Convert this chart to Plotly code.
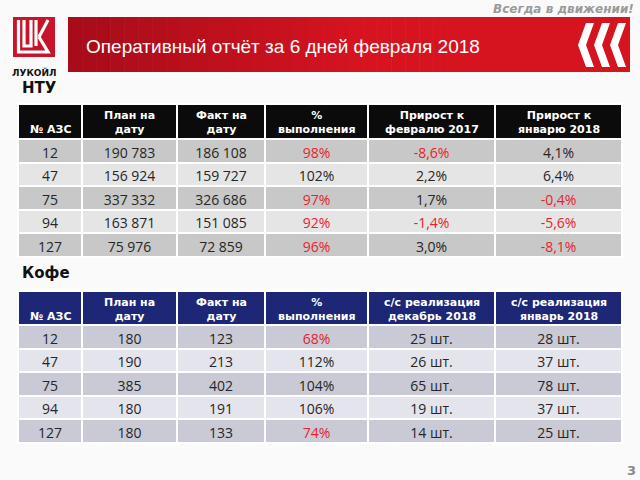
import plotly.graph_objects as go

W, H = 640, 480

# ---------------- data ----------------
azs = [12, 47, 75, 94, 127]

ntu_plan = [190783, 156924, 337332, 163871, 75976]
ntu_fact = [186108, 159727, 326686, 151085, 72859]
ntu_pct = [98, 102, 97, 92, 96]
ntu_feb17 = [-8.6, 2.2, 1.7, -1.4, 3.0]
ntu_jan18 = [4.1, 6.4, -0.4, -5.6, -8.1]

coffee_plan = [180, 190, 385, 180, 180]
coffee_fact = [123, 213, 402, 191, 133]
coffee_pct = [68, 112, 104, 106, 74]
coffee_dec = [25, 26, 65, 19, 14]
coffee_jan = [28, 37, 78, 37, 25]

ntu_headers = ["№ АЗС", "План на<br>дату", "Факт на<br>дату", "%<br>выполнения",
               "Прирост к<br>февралю 2017", "Прирост к<br>январю 2018"]
coffee_headers = ["№ АЗС", "План на<br>дату", "Факт на<br>дату", "%<br>выполнения",
                  "с/с реализация<br>декабрь 2018", "с/с реализация<br>январь 2018"]

title_text = "Оперативный отчёт за 6 дней февраля 2018"
slogan = "Всегда в движении!"

# ---------------- helpers ----------------
RED = "#e8222c"
TXT = "#262626"


def px(x):
    return x / W


def py(y):
    return 1 - y / H


def thousands(v):
    return f"{v:,}".replace(",", " ")


def pct(v):
    return f"{v}%"


def growth(v):
    return f"{v:.1f}".replace(".", ",") + "%"


def col_colors(vals, red_if):
    return [RED if red_if(v) else TXT for v in vals]


col_w = [64, 95, 88, 103, 127, 127]
tbl_left, tbl_right = 18, 622
edges = [tbl_left]
for w in col_w:
    edges.append(edges[-1] + w * (tbl_right - tbl_left) / sum(col_w))
col_centers = [(edges[i] + edges[i + 1]) / 2 for i in range(len(col_w))]

fig = go.Figure()
annotations = []


def add_table(top, header_h, row_h, headers, cells, font_colors, header_fill, row_fills):
    bottom = top + header_h + row_h * len(cells[0]) + 6
    fig.add_trace(go.Table(
        domain=dict(x=[px(tbl_left), px(tbl_right)], y=[py(bottom), py(top)]),
        columnwidth=col_w,
        header=dict(values=[""] * len(headers), fill_color=header_fill,
                    line=dict(color="white", width=2), height=header_h),
        cells=dict(values=cells, fill_color=[row_fills] * len(cells), align="center",
                   line=dict(color="white", width=2), height=row_h,
                   font=dict(family="Open Sans", size=14, color=font_colors)),
    ))
    for cx, h in zip(col_centers, headers):
        one_line = "<br>" not in h
        yc = top + header_h / 2 + (8 if one_line else 1)
        annotations.append(dict(
            text=f"<b>{h}</b>", x=px(cx), y=py(yc),
            xanchor="center", yanchor="middle", align="center",
            font=dict(family="DejaVu Sans", size=11, color="white")))


# ---------- НТУ table ----------
ntu_cells = [
    [str(a) for a in azs],
    [thousands(v) for v in ntu_plan],
    [thousands(v) for v in ntu_fact],
    [pct(v) for v in ntu_pct],
    [growth(v) for v in ntu_feb17],
    [growth(v) for v in ntu_jan18],
]
ntu_font_colors = [
    [TXT] * 5, [TXT] * 5, [TXT] * 5,
    col_colors(ntu_pct, lambda v: v < 100),
    col_colors(ntu_feb17, lambda v: v < 0),
    col_colors(ntu_jan18, lambda v: v < 0),
]
gray_rows = ["#c8c8c8", "#e5e5e5", "#c8c8c8", "#e5e5e5", "#c8c8c8"]
add_table(104, 35, 23.6, ntu_headers, ntu_cells, ntu_font_colors, "#0b0b0b", gray_rows)

# ---------- Кофе table ----------
coffee_cells = [
    [str(a) for a in azs],
    [str(v) for v in coffee_plan],
    [str(v) for v in coffee_fact],
    [pct(v) for v in coffee_pct],
    [f"{v} шт." for v in coffee_dec],
    [f"{v} шт." for v in coffee_jan],
]
coffee_font_colors = [
    [TXT] * 5, [TXT] * 5, [TXT] * 5,
    col_colors(coffee_pct, lambda v: v < 100),
    [TXT] * 5, [TXT] * 5,
]
blue_rows = ["#c9cad5", "#e4e4ec", "#c9cad5", "#e4e4ec", "#c9cad5"]
add_table(291, 34, 23.6, coffee_headers, coffee_cells, coffee_font_colors, "#1d2775", blue_rows)

# ---------- decorations ----------
shapes = []
# red title bar with horizontal gradient
x0, x1, y0, y1 = 68, 630, 17, 72
n = 40
c_from = (168, 12, 26)
c_to = (214, 20, 32)
for i in range(n):
    t = min(1.0, i / (n * 0.5))
    c = tuple(int(a + (b - a) * t) for a, b in zip(c_from, c_to))
    xa = x0 + (x1 - x0) * i / n
    xb = x0 + (x1 - x0) * (i + 1) / n + 0.6
    shapes.append(dict(type="rect", xref="paper", yref="paper",
                       x0=px(xa), x1=px(min(xb, x1)), y0=py(y1), y1=py(y0),
                       fillcolor=f"rgb{c}", line=dict(width=0), layer="below"))

# chevrons
for cx in (578, 594, 610):
    pts = [(cx + 8, 23), (cx + 16, 23), (cx + 8, 45), (cx + 16, 67),
           (cx + 8, 67), (cx, 45)]
    path = "M " + " L ".join(f"{px(a)},{py(b)}" for a, b in pts) + " Z"
    shapes.append(dict(type="path", xref="paper", yref="paper", path=path,
                       fillcolor="white", line=dict(width=0)))

# logo square
shapes.append(dict(type="rect", xref="paper", yref="paper",
                   x0=px(13), x1=px(55), y0=py(57), y1=py(17),
                   fillcolor="#c8142a", line=dict(width=0)))
# logo strokes
logo_paths = [
    [(18.5, 20), (18.5, 52), (48, 52), (39, 37)],
    [(24, 20), (24, 46), (31, 46), (31, 20)],
    [(36, 20), (36, 46)],
    [(48, 20), (39, 37)],
]
for pts in logo_paths:
    path = "M " + " L ".join(f"{px(a)},{py(b)}" for a, b in pts)
    shapes.append(dict(type="path", xref="paper", yref="paper", path=path,
                       line=dict(color="white", width=3.2)))

annotations += [
    dict(text=title_text, x=px(84), y=py(46), xanchor="left", yanchor="middle",
         font=dict(family="Liberation Sans", size=19, color="white")),
    dict(text=f"<i><b>{slogan}</b></i>", x=px(636), y=py(9), xanchor="right", yanchor="middle",
         font=dict(family="DejaVu Sans", size=12, color="#9a9a9a")),
    dict(text="<b>ЛУКОЙЛ</b>", x=px(34), y=py(72), xanchor="center", yanchor="middle",
         font=dict(family="DejaVu Sans", size=9, color="#111")),
    dict(text="<b>НТУ</b>", x=px(20), y=py(88), xanchor="left", yanchor="middle",
         font=dict(family="DejaVu Sans", size=15, color="#111")),
    dict(text="<b>Кофе</b>", x=px(20), y=py(273), xanchor="left", yanchor="middle",
         font=dict(family="DejaVu Sans", size=15, color="#111")),
    dict(text="<b>3</b>", x=px(631), y=py(470), xanchor="center", yanchor="middle",
         font=dict(family="DejaVu Sans", size=13, color="#8a8a8a")),
]
for a in annotations:
    a.update(xref="paper", yref="paper", showarrow=False)

fig.update_layout(
    width=W, height=H, margin=dict(l=0, r=0, t=0, b=0),
    paper_bgcolor="#fafafa", plot_bgcolor="#fafafa",
    shapes=shapes, annotations=annotations,
)

fig.write_html("out.html", config={"displayModeBar": False},
               post_script="document.body.style.margin='0px';")
